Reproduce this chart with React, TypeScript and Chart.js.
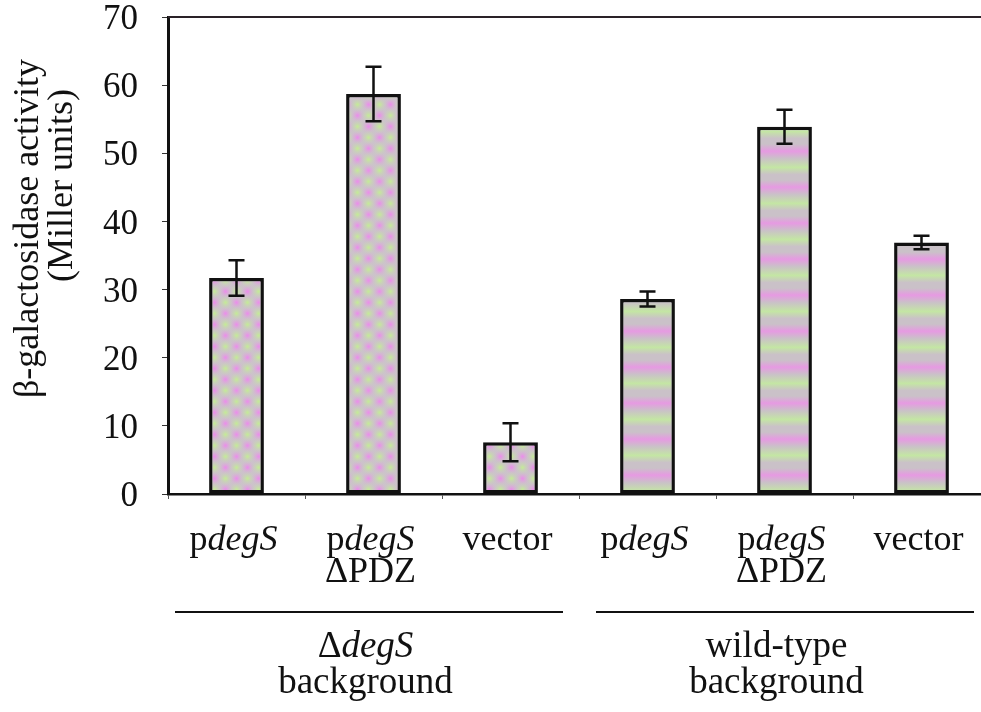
import React, { useEffect, useRef } from "react";
import { Chart, registerables } from "chart.js";

Chart.register(...registerables);

// ---- data ----
const categories = ["pdegS", "pdegS ΔPDZ", "vector", "pdegS", "pdegS ΔPDZ", "vector"];
// rich-text label lines; text between underscores is italic
const categoryLabelLines = [
  ["p_degS_"],
  ["p_degS_", "ΔPDZ"],
  ["vector"],
  ["p_degS_"],
  ["p_degS_", "ΔPDZ"],
  ["vector"],
];
const activity = [31.7, 58.7, 7.6, 28.6, 53.9, 36.9];
const errorSize = [2.6, 4.0, 2.8, 1.1, 2.5, 1.0];
const groupLabelLines = [
  ["Δ_degS_", "background"],
  ["wild-type", "background"],
];
const groupRanges = [
  [0, 2],
  [3, 5],
];
const yTitleLines = ["β-galactosidase activity", "(Miller units)"];
const yMin = 0;
const yMax = 70;
const yStep = 10;

const FONT = '"Liberation Serif", "Times New Roman", serif';

function drawRich(ctx: CanvasRenderingContext2D, text: string, cx: number, y: number, size: number) {
  const parts = text.split("_");
  const segs = parts.map((t, i) => ({ t, italic: i % 2 === 1 })).filter((s) => s.t.length);
  let total = 0;
  for (const s of segs) {
    ctx.font = `${s.italic ? "italic " : ""}${size}px ${FONT}`;
    total += ctx.measureText(s.t).width;
  }
  let x = cx - total / 2;
  ctx.textAlign = "left";
  ctx.textBaseline = "alphabetic";
  for (const s of segs) {
    ctx.font = `${s.italic ? "italic " : ""}${size}px ${FONT}`;
    ctx.fillText(s.t, x, y);
    x += ctx.measureText(s.t).width;
  }
}

function makeDots(ctx: CanvasRenderingContext2D): CanvasPattern | string {
  const c = document.createElement("canvas");
  const S = 22;
  c.width = S;
  c.height = S;
  const g = c.getContext("2d")!;
  g.fillStyle = "#ccc3ca";
  g.fillRect(0, 0, S, S);
  const blob = (x: number, y: number, col: string) => {
    for (const dx of [-S, 0, S])
      for (const dy of [-S, 0, S]) {
        const rg = g.createRadialGradient(x + dx, y + dy, 0, x + dx, y + dy, 8);
        rg.addColorStop(0, col);
        rg.addColorStop(1, "rgba(204,195,202,0)");
        g.fillStyle = rg;
        g.fillRect(x + dx - 11, y + dy - 11, 22, 22);
      }
  };
  blob(5.5, 5.5, "rgba(236,140,236,1)");
  blob(16.5, 16.5, "rgba(236,140,236,1)");
  blob(16.5, 5.5, "rgba(196,236,150,1)");
  blob(5.5, 16.5, "rgba(196,236,150,1)");
  return ctx.createPattern(c, "repeat") || "#cbc3c9";
}

function makeStripes(ctx: CanvasRenderingContext2D): CanvasPattern | string {
  const c = document.createElement("canvas");
  const S = 36;
  c.width = S;
  c.height = S;
  const g = c.getContext("2d")!;
  const lg = g.createLinearGradient(0, 0, 0, S);
  lg.addColorStop(0, "#cac1c8");
  lg.addColorStop(0.2, "#e69ae2");
  lg.addColorStop(0.4, "#cac1c8");
  lg.addColorStop(0.65, "#c4e6a4");
  lg.addColorStop(0.85, "#cac1c8");
  lg.addColorStop(1, "#cac1c8");
  g.fillStyle = lg;
  g.fillRect(0, 0, S, S);
  return ctx.createPattern(c, "repeat") || "#cbc3c9";
}

export default function App() {
  const ref = useRef<HTMLCanvasElement | null>(null);

  useEffect(() => {
    const canvas = ref.current!;
    const ctx0 = canvas.getContext("2d")!;
    const dots = makeDots(ctx0);
    const stripes = makeStripes(ctx0);

    const extras = {
      id: "extras",
      afterDraw(chart: any) {
        const ctx: CanvasRenderingContext2D = chart.ctx;
        const area = chart.chartArea;
        const xs = chart.scales.x;
        const ys = chart.scales.y;
        ctx.save();
        // top border
        ctx.strokeStyle = "#2a2228";
        ctx.lineWidth = 2;
        ctx.beginPath();
        ctx.moveTo(area.left, area.top);
        ctx.lineTo(area.right, area.top);
        ctx.stroke();

        // error bars
        ctx.strokeStyle = "#111";
        ctx.lineWidth = 2.5;
        activity.forEach((v, i) => {
          const x = xs.getPixelForValue(i);
          const yT = ys.getPixelForValue(v + errorSize[i]);
          const yB = ys.getPixelForValue(v - errorSize[i]);
          ctx.beginPath();
          ctx.moveTo(x, yT);
          ctx.lineTo(x, yB);
          ctx.moveTo(x - 8, yT);
          ctx.lineTo(x + 8, yT);
          ctx.moveTo(x - 8, yB);
          ctx.lineTo(x + 8, yB);
          ctx.stroke();
        });

        // category labels
        ctx.fillStyle = "#111";
        categoryLabelLines.forEach((lines, i) => {
          const x = xs.getPixelForValue(i) - 3;
          lines.forEach((ln, j) => drawRich(ctx, ln, x, area.bottom + 56 + j * 32, 36));
        });

        // group lines and labels
        const half = (xs.getPixelForValue(1) - xs.getPixelForValue(0)) / 2;
        groupRanges.forEach(([a, b], gi) => {
          const l = xs.getPixelForValue(a) - half + (gi === 0 ? 7 : 17);
          const r = xs.getPixelForValue(b) + half - 16;
          ctx.strokeStyle = "#111";
          ctx.lineWidth = 2;
          ctx.beginPath();
          ctx.moveTo(l, area.bottom + 118);
          ctx.lineTo(r, area.bottom + 118);
          ctx.stroke();
          const cx = (xs.getPixelForValue(a) + xs.getPixelForValue(b)) / 2 - 8;
          groupLabelLines[gi].forEach((ln, j) => drawRich(ctx, ln, cx, area.bottom + 163 + j * 36, 37));
        });

        // y title
        const cy = (area.top + area.bottom) / 2;
        ctx.font = `36px ${FONT}`;
        ctx.fillStyle = "#111";
        ctx.textAlign = "center";
        ctx.textBaseline = "middle";
        ctx.save();
        ctx.translate(29, cy - 27);
        ctx.rotate(-Math.PI / 2);
        ctx.fillText(yTitleLines[0], 0, 0);
        ctx.restore();
        ctx.save();
        ctx.translate(63, cy - 70);
        ctx.rotate(-Math.PI / 2);
        ctx.fillText(yTitleLines[1], 0, 0);
        ctx.restore();
        ctx.restore();
      },
    };

    const chart = new Chart(canvas, {
      type: "bar",
      data: {
        labels: categories,
        datasets: [
          {
            label: "β-galactosidase activity",
            data: activity,
            backgroundColor: [dots, dots, dots, stripes, stripes, stripes] as any,
            borderColor: "#111",
            borderWidth: 3.5,
            borderSkipped: false,
            barPercentage: 0.4,
            categoryPercentage: 1,
          },
        ],
      },
      options: {
        responsive: false,
        animation: false,
        devicePixelRatio: 1,
        layout: { padding: { left: 0, top: 17, right: 10, bottom: 0 } },
        plugins: {
          legend: { display: false },
          tooltip: { enabled: false },
          title: { display: false },
        },
        scales: {
          x: {
            type: "category",
            offset: true,
            grid: {
              offset: true,
              drawOnChartArea: false,
              drawTicks: true,
              tickLength: 5,
              color: "#555",
            },
            border: { display: true, color: "#111", width: 2.5 },
            ticks: { display: false },
            afterFit(scale: any) {
              scale.height = 218;
              scale.paddingLeft = 0;
              scale.paddingRight = 0;
            },
          },
          y: {
            min: yMin,
            max: yMax,
            grid: {
              drawOnChartArea: false,
              drawTicks: true,
              tickLength: 6,
              color: "#333",
            },
            border: { display: true, color: "#111", width: 3 },
            ticks: {
              stepSize: yStep,
              padding: 24,
              labelOffset: 3,
              color: "#111",
              font: { family: FONT, size: 35 },
            },
            afterFit(scale: any) {
              scale.width = 168;
              scale.paddingTop = 0;
              scale.paddingBottom = 0;
            },
          },
        },
      },
      plugins: [extras],
    });
    return () => chart.destroy();
  }, []);

  return (
    <div
      style={{
        position: "fixed",
        left: 0,
        top: 0,
        width: 981,
        height: 712,
        overflow: "hidden",
        background: "#fff",
      }}
    >
      <canvas ref={ref} width={1000} height={712} style={{ display: "block", width: 1000, height: 712 }} />
    </div>
  );
}
